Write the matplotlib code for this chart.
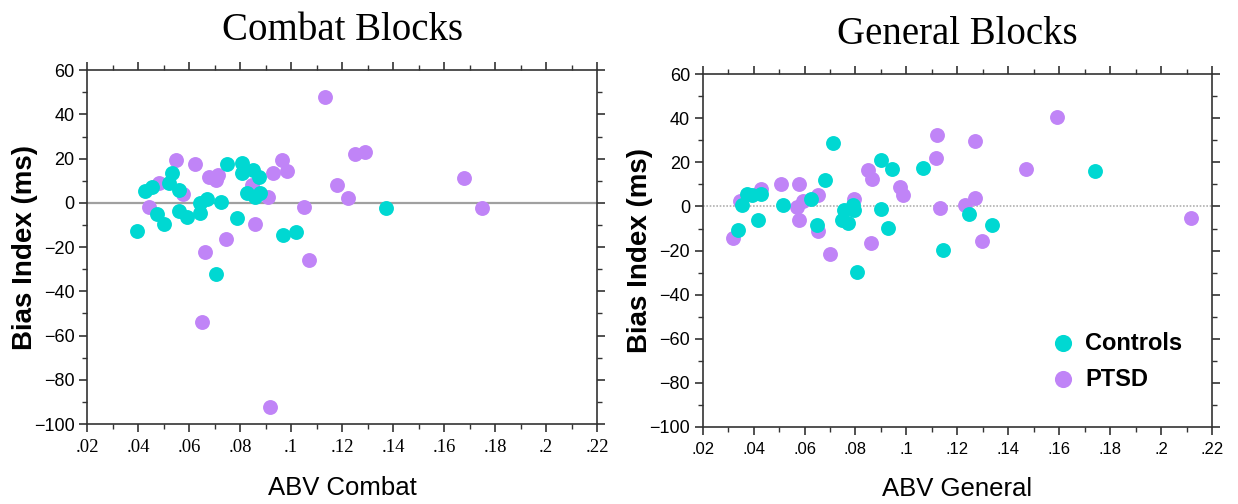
import matplotlib
matplotlib.use('Agg')
import matplotlib.pyplot as plt
from matplotlib.ticker import MultipleLocator, FixedLocator

# Combat blocks
combat_ctrl_x = [0.0397, 0.0427, 0.0456, 0.0476, 0.0502, 0.0522, 0.0533, 0.0561, 0.0562,
                 0.0591, 0.0643, 0.0643, 0.0669, 0.0725, 0.0706, 0.0750, 0.0789, 0.0809,
                 0.0809, 0.0826, 0.0852, 0.0859, 0.0875, 0.0878, 0.0967, 0.1020, 0.1373]
combat_ctrl_y = [-12.6, 5.6, 7.4, -5.1, -9.6, 8.9, 13.4, 5.9, -3.5,
                 -6.2, -4.7, -0.1, 1.7, 0.6, -32.0, 17.4, -6.9, 17.9,
                 13.7, 4.4, 14.9, 2.8, 11.9, 4.4, -14.7, -13.2, -2.4]
combat_ptsd_x = [0.1133, 0.0548, 0.0624, 0.0680, 0.0715, 0.0706, 0.0482, 0.0575, 0.0443,
                 0.0846, 0.0911, 0.0931, 0.0964, 0.0983, 0.1052, 0.1179, 0.1225, 0.1251,
                 0.1290, 0.0859, 0.0744, 0.0663, 0.1072, 0.0650, 0.0918, 0.1678, 0.1750]
combat_ptsd_y = [47.9, 19.4, 17.4, 11.9, 12.6, 10.4, 8.9, 4.1, -1.7,
                 8.1, 2.8, 13.7, 19.4, 14.6, -1.7, 8.0, 2.1, 22.0,
                 22.9, -9.6, -16.4, -22.4, -26.0, -54.0, -92.3, 11.1, -2.4]

# General blocks
general_ctrl_x = [0.0713, 0.0899, 0.0943, 0.1064, 0.0680, 0.0373, 0.0393, 0.0429, 0.0353,
                  0.0514, 0.0624, 0.0756, 0.0792, 0.0796, 0.0746, 0.0770, 0.0899, 0.0648,
                  0.0418, 0.0340, 0.0929, 0.1143, 0.0805, 0.1246, 0.1336, 0.1739]
general_ctrl_y = [28.8, 21.2, 16.8, 17.6, 11.8, 5.8, 5.0, 5.8, 0.5,
                  0.5, 3.5, -1.5, 0.9, -1.8, -6.0, -7.6, -1.1, -8.3,
                  -6.0, -10.6, -9.7, -19.7, -29.9, -3.3, -8.3, 16.2]
general_ptsd_x = [0.1122, 0.1117, 0.0851, 0.0864, 0.0975, 0.0988, 0.0507, 0.0578, 0.0429,
                  0.0654, 0.0595, 0.0569, 0.0796, 0.0578, 0.0654, 0.0320, 0.0700, 0.0860,
                  0.1130, 0.1591, 0.1270, 0.1470, 0.1270, 0.1231, 0.1296, 0.2117, 0.0347]
general_ptsd_y = [32.6, 22.1, 16.4, 12.6, 8.8, 5.0, 10.3, 10.3, 8.0,
                  5.0, 2.7, -0.3, 3.2, -6.0, -10.9, -14.4, -21.5, -16.4,
                  -0.8, 40.6, 29.5, 16.8, 3.8, 0.5, -15.8, -5.3, 2.7]

xticks = [0.02, 0.04, 0.06, 0.08, 0.10, 0.12, 0.14, 0.16, 0.18, 0.20, 0.22]
xlabels = ['.02', '.04', '.06', '.08', '.1', '.12', '.14', '.16', '.18', '.2', '.22']

CYAN = '#00d8d2'
PURPLE = '#c084f7'
SANS = 'Liberation Sans'
SERIF = 'Liberation Serif'

fig = plt.figure(figsize=(12.38, 5.04), dpi=100)
ax1 = fig.add_axes([0.0703, 0.1587, 0.412, 0.702])
ax2 = fig.add_axes([0.5676, 0.1528, 0.4114, 0.700])


def style(ax, title, xlabel, xfont, xsize, ylab_x):
    ax.set_xlim(0.02, 0.22)
    ax.set_ylim(-100, 60)
    ax.xaxis.set_major_locator(FixedLocator(xticks))
    ax.set_xticklabels(xlabels, fontname=xfont, fontsize=xsize)
    ax.xaxis.set_minor_locator(MultipleLocator(0.01))
    ax.yaxis.set_major_locator(MultipleLocator(20))
    ax.yaxis.set_minor_locator(MultipleLocator(10))
    for lab in ax.get_yticklabels():
        lab.set_fontname(SANS)
        lab.set_fontsize(13)
    ax.tick_params(which='both', direction='out', top=True, right=True,
                   labeltop=False, labelright=False, color='#333333')
    ax.tick_params(which='major', length=6, width=1.2)
    ax.tick_params(which='minor', length=3.5, width=1.0)
    ax.tick_params(axis='x', pad=5)
    ax.tick_params(axis='y', pad=3)
    for s in ax.spines.values():
        s.set_color('#333333')
        s.set_linewidth(1.2)
    ax.set_title(title, fontname=SERIF, fontsize=28, pad=22)
    ax.set_xlabel(xlabel, fontname=SANS, fontsize=18.5, labelpad=14)
    ax.set_ylabel('Bias Index (ms)', fontname=SANS, fontsize=20, fontweight='bold')
    ax.yaxis.set_label_coords(ylab_x, 0.5)


ax1.axhline(0, color='#a0a0a0', lw=1.6, zorder=1)
ax1.scatter(combat_ctrl_x, combat_ctrl_y, s=115, color=CYAN, zorder=3, linewidths=0)
ax1.scatter(combat_ptsd_x, combat_ptsd_y, s=115, color=PURPLE, zorder=2, linewidths=0)
style(ax1, 'Combat Blocks', 'ABV Combat', SERIF, 13.5, -0.097)

ax2.axhline(0, color='#b0b0b0', lw=1.2, ls=(0, (1, 1)), zorder=1)
ax2.scatter(general_ptsd_x, general_ptsd_y, s=115, color=PURPLE, zorder=2, linewidths=0, label='PTSD')
ax2.scatter(general_ctrl_x, general_ctrl_y, s=115, color=CYAN, zorder=3, linewidths=0, label='Controls')
style(ax2, 'General Blocks', 'ABV General', SANS, 12, -0.098)
h, l = ax2.get_legend_handles_labels()
ax2.legend(h[::-1], l[::-1], loc='center left', bbox_to_anchor=(0.684, 0.187), frameon=False,
           prop={'family': SANS, 'size': 17, 'weight': 'bold'}, handlelength=1.0,
           handletextpad=0.44, borderpad=0, borderaxespad=0,
           labelspacing=0.55, markerscale=1.15)

fig.savefig('out.png', dpi=100)
